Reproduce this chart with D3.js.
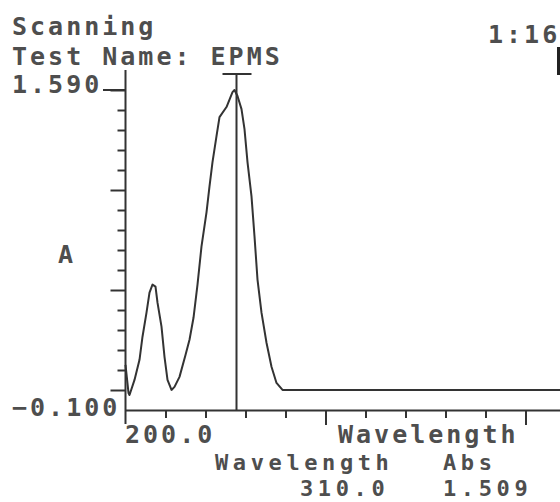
<!DOCTYPE html>
<html>
<head>
<meta charset="utf-8">
<script src="https://cdn.jsdelivr.net/npm/d3@7"></script>
<style>
  html, body { margin: 0; padding: 0; background: #fff; }
  svg { display: block; }
  text { font-family: "DejaVu Sans Mono", "Liberation Mono", monospace; font-weight: bold; fill: #4e4e4e; font-size: 25px; letter-spacing: 3px; }
  text.readout { font-size: 22px; letter-spacing: 4.6px; }
</style>
</head>
<body>
<svg id="chart" width="560" height="502"></svg>
<script>
// ---- data ----
const wavelengths = [200, 203, 204, 209, 214, 217, 221, 224, 227, 230, 232, 236, 239, 242, 246, 249,
  254, 260, 264, 268, 272, 276, 281, 284, 287, 291, 294, 301, 307, 309, 312, 316, 319, 322, 326,
  329, 332, 336, 341, 346, 351, 357, 400, 500, 600, 700, 800];
const absorbance = [0.138, -0.010, -0.021, 0.059, 0.165, 0.287, 0.414, 0.520, 0.562, 0.552, 0.467,
  0.340, 0.181, 0.059, 0.006, 0.022, 0.075, 0.191, 0.271, 0.387, 0.562, 0.764, 0.944, 1.081, 1.209,
  1.346, 1.447, 1.500, 1.579, 1.590, 1.558, 1.489, 1.383, 1.209, 1.028, 0.817, 0.589, 0.414, 0.255,
  0.128, 0.043, 0.006, 0.006, 0.006, 0.006, 0.006, 0.006];
const yDomain = [-0.100, 1.590];
const yTickLabels = ["1.590", "-0.100"];
const xDomain = [200.0, 800.0];
const xStartLabel = "200.0";
const xTickStep = 40;
const yTickDivisions = 16;
const cursorWavelength = 310.0;
const cursorAbs = 1.509;
const headerLines = ["Scanning", "Test Name: EPMS"];
const timeLabel = "1:16";
const yAxisTitle = "A";
const xAxisTitle = "Wavelength";
const readoutHeaders = ["Wavelength", "Abs"];

// ---- drawing ----
const svg = d3.select("#chart");
const ink = "#333";

const x = d3.scaleLinear().domain(xDomain).range([125.5, 725.5]);
const y = d3.scaleLinear().domain(yDomain).range([410, 90]);

// header text
svg.append("text").attr("x", 12).attr("y", 35).text(headerLines[0]);
svg.append("text").attr("x", 12).attr("y", 65).text(headerLines[1]);
svg.append("text").attr("x", 488).attr("y", 43).text(timeLabel);
svg.append("line").attr("x1", 558.5).attr("x2", 558.5).attr("y1", 47).attr("y2", 75)
  .attr("stroke", "#222").attr("stroke-width", 3);

// y axis
const yTicks = d3.range(yTickDivisions + 1).map(i => yDomain[0] + i * (yDomain[1] - yDomain[0]) / yTickDivisions);
const yAxis = d3.axisLeft(y).tickValues(yTicks).tickFormat("").tickSizeOuter(0)
  .tickSize(8);
const yg = svg.append("g").attr("transform", `translate(${x(xDomain[0])},0)`).call(yAxis);
yg.select(".domain").remove();
yg.selectAll(".tick line")
  .attr("stroke", ink).attr("stroke-width", 2)
  .attr("x2", (d, i) => (i % 5 === 1 ? -15 : (i === 0 ? 0 : -8)));
svg.append("line").attr("x1", x(xDomain[0])).attr("x2", x(xDomain[0]))
  .attr("y1", 70).attr("y2", 424).attr("stroke", ink).attr("stroke-width", 2);
// top tick extended to label
svg.append("line").attr("x1", 103).attr("x2", x(xDomain[0])).attr("y1", y(yDomain[1])).attr("y2", y(yDomain[1]))
  .attr("stroke", ink).attr("stroke-width", 2);

svg.append("text").attr("x", 12).attr("y", 93).text(yTickLabels[0]);
svg.append("text").attr("x", 12).attr("y", 416).text(yTickLabels[1].replace("-", "\u2212"));
svg.append("text").attr("x", 58).attr("y", 263).text(yAxisTitle);

// x axis
const xTicks = d3.range(xDomain[0], xDomain[1] + 1, xTickStep);
const xAxis = d3.axisBottom(x).tickValues(xTicks).tickFormat("").tickSizeOuter(0);
const xg = svg.append("g").attr("transform", `translate(0,${y(yDomain[0])})`).call(xAxis);
xg.select(".domain").attr("stroke", ink).attr("stroke-width", 2);
xg.selectAll(".tick line").attr("stroke", ink).attr("stroke-width", 2)
  .attr("y2", (d, i) => (i === 0 ? 0 : (i % 5 === 0 ? 15 : 8)));

svg.append("text").attr("x", 125).attr("y", 443).text(xStartLabel);
svg.append("text").attr("x", 338).attr("y", 443).text(xAxisTitle);

// cursor
const cx = Math.round(x(cursorWavelength)) + 0.5;
svg.append("line").attr("x1", cx).attr("x2", cx).attr("y1", 74).attr("y2", y(yDomain[0]))
  .attr("stroke", ink).attr("stroke-width", 2);
svg.append("line").attr("x1", cx - 14).attr("x2", cx + 15).attr("y1", 74).attr("y2", 74)
  .attr("stroke", ink).attr("stroke-width", 2);

// spectrum
const line = d3.line().x((d, i) => x(wavelengths[i])).y(d => y(d)).curve(d3.curveLinear);
svg.append("path").datum(absorbance).attr("d", line)
  .attr("fill", "none").attr("stroke", ink).attr("stroke-width", 2).attr("stroke-linejoin", "round");

// readout
svg.append("text").attr("class", "readout").attr("x", 215).attr("y", 470).text(readoutHeaders[0]);
svg.append("text").attr("class", "readout").attr("x", 443).attr("y", 470).text(readoutHeaders[1]);
svg.append("text").attr("class", "readout").attr("x", 300).attr("y", 496).text(cursorWavelength.toFixed(1));
svg.append("text").attr("class", "readout").attr("x", 443).attr("y", 496).text(cursorAbs.toFixed(3));
</script>
</body>
</html>
